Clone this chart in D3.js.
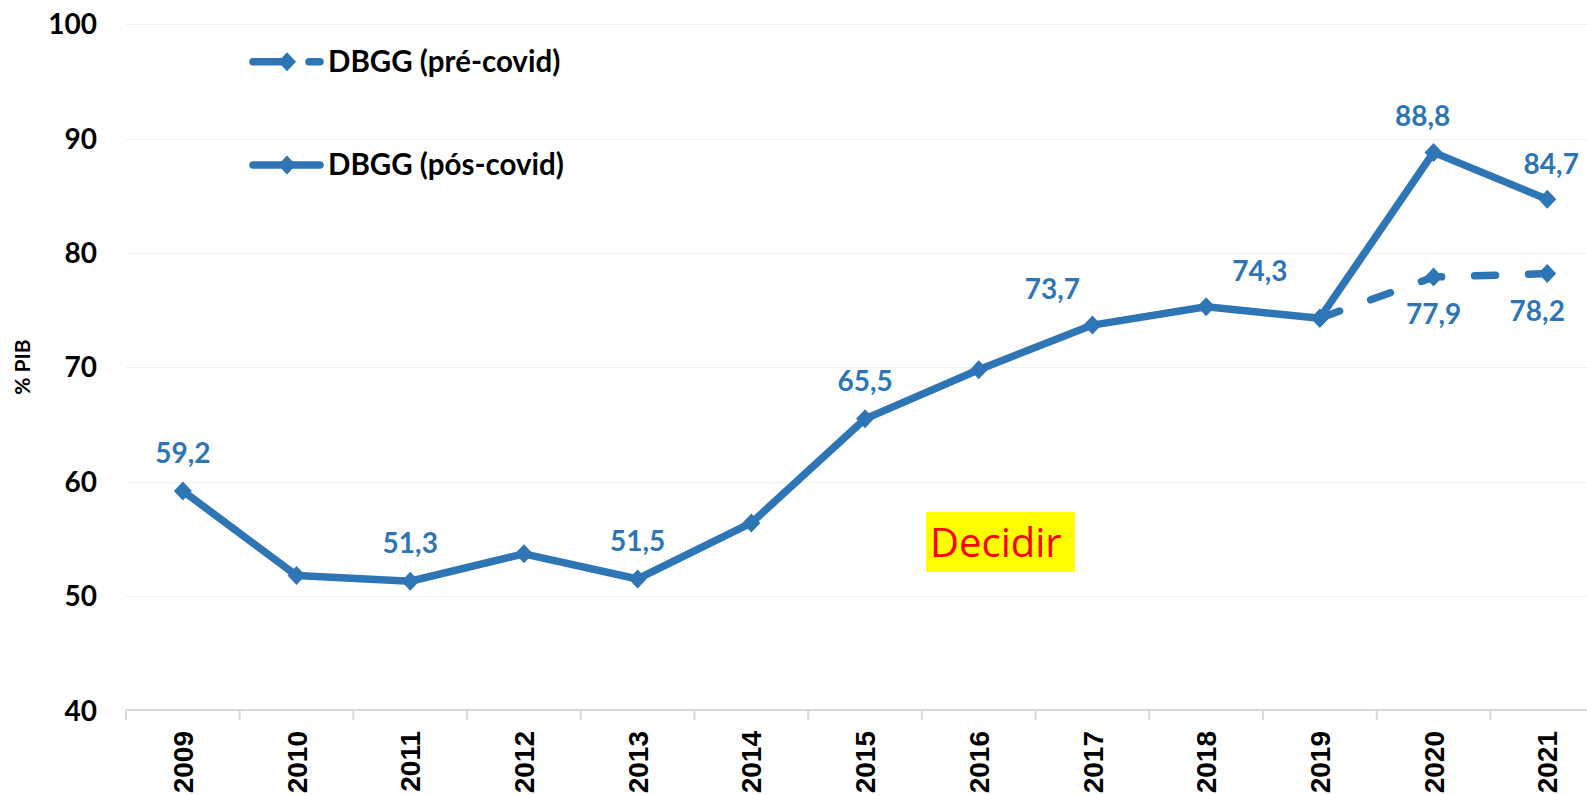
<!DOCTYPE html>
<html>
  <head>
    <meta charset="utf-8">
    <script type="text/javascript" src="https://cdn.jsdelivr.net/npm/d3@7"></script>
    <style>
      body { margin: 0; background: #fff; }
      svg { display: block; }
    </style>
  </head>
<body>
  <script type="text/javascript">
    // data
    var years = ["2009", "2010", "2011", "2012", "2013", "2014", "2015",
                 "2016", "2017", "2018", "2019", "2020", "2021"];
    var posCovid = [59.2, 51.8, 51.3, 53.7, 51.5, 56.4, 65.5, 69.8, 73.7, 75.3, 74.3, 88.8, 84.7];
    var preYears = ["2019", "2020", "2021"];
    var preCovid = [74.3, 77.9, 78.2];
    var yTicks = [40, 50, 60, 70, 80, 90, 100];
    var posLabelYears = ["2009", "2011", "2013", "2015", "2017", "2019", "2020", "2021"];
    var preLabelYears = ["2020", "2021"];

    // label placement (offsets from the point, px)
    var posOffsets = {
      "2009": [0, -28], "2011": [0, -28], "2013": [0, -28], "2015": [0, -28],
      "2017": [-40, -26], "2019": [-60, -37], "2020": [-11, -26], "2021": [4, -25]
    };
    var preOffsets = { "2020": [0, 47], "2021": [-10, 47] };

    var width = 1587;
    var height = 795;
    var blue = "#2e75b6";
    var labelFont = "Lato, 'Open Sans', sans-serif";

    var svg = d3.select("body")
      .append("svg")
      .attr("width", width)
      .attr("height", height);

    var xScale = d3.scaleBand()
      .domain(years)
      .range([126, 126 + 13 * 113.7])
      .padding(0);
    var yScale = d3.scaleLinear()
      .domain([40, 100])
      .range([710.5, 24.3]);

    function cx(y) { return xScale(y) + xScale.bandwidth() / 2; }

    // gridlines
    svg.append("g")
      .selectAll("line")
      .data(yTicks.filter(function (t) { return t > 40; }))
      .enter()
      .append("line")
      .attr("x1", 126)
      .attr("x2", width)
      .attr("y1", function (d) { return Math.round(yScale(d)) + 0.5; })
      .attr("y2", function (d) { return Math.round(yScale(d)) + 0.5; })
      .attr("stroke", "#efefef")
      .attr("stroke-width", 1);

    // y tick labels
    svg.append("g")
      .selectAll("text")
      .data(yTicks)
      .enter()
      .append("text")
      .attr("x", 97)
      .attr("y", function (d) { return yScale(d); })
      .attr("dy", "0.36em")
      .attr("text-anchor", "end")
      .attr("font-family", labelFont)
      .attr("font-weight", "bold")
      .attr("font-size", 28)
      .attr("fill", "#000")
      .text(function (d) { return d; });

    svg.append("text")
      .attr("transform", "translate(30,367) rotate(-90)")
      .attr("text-anchor", "middle")
      .attr("font-family", labelFont)
      .attr("font-weight", "bold")
      .attr("font-size", 21)
      .attr("fill", "#000")
      .text("% PIB");

    // x axis
    var xAxis = d3.axisBottom(xScale)
      .tickSize(0)
      .tickFormat("");
    var gx = svg.append("g")
      .attr("transform", "translate(0,710)")
      .call(xAxis);
    gx.select(".domain")
      .attr("stroke", "#d9d9d9")
      .attr("stroke-width", 2)
      .attr("d", "M126,0H" + width);

    var edges = years.map(function (y) { return xScale(y); });
    gx.selectAll(".edge")
      .data(edges)
      .enter()
      .append("line")
      .attr("class", "edge")
      .attr("x1", function (d) { return d; })
      .attr("x2", function (d) { return d; })
      .attr("y1", 0)
      .attr("y2", 10)
      .attr("stroke", "#d9d9d9")
      .attr("stroke-width", 2);

    svg.append("g")
      .selectAll("text")
      .data(years)
      .enter()
      .append("text")
      .attr("transform", function (d) { return "translate(" + cx(d) + ",731) rotate(-90)"; })
      .attr("dy", "0.36em")
      .attr("text-anchor", "end")
      .attr("font-family", "'Liberation Sans', Arial, sans-serif")
      .attr("font-weight", "bold")
      .attr("font-size", 28)
      .attr("fill", "#000")
      .text(function (d) { return d; });

    // lines
    var diamond = "M0,-9.5L9,0L0,9.5L-9,0Z";
    var line = d3.line()
      .x(function (d) { return cx(d[0]); })
      .y(function (d) { return yScale(d[1]); });

    var preData = d3.zip(preYears, preCovid);
    var posData = d3.zip(years, posCovid);

    svg.append("path")
      .datum(preData)
      .attr("d", line)
      .attr("fill", "none")
      .attr("stroke", blue)
      .attr("stroke-width", 7.5)
      .attr("stroke-linecap", "round")
      .attr("stroke-dasharray", "21,33");
    svg.append("g")
      .selectAll("path")
      .data(preData)
      .enter()
      .append("path")
      .attr("d", diamond)
      .attr("transform", function (d) { return "translate(" + cx(d[0]) + "," + yScale(d[1]) + ")"; })
      .attr("fill", blue);

    svg.append("path")
      .datum(posData)
      .attr("d", line)
      .attr("fill", "none")
      .attr("stroke", blue)
      .attr("stroke-width", 7.5)
      .attr("stroke-linejoin", "round");
    svg.append("g")
      .selectAll("path")
      .data(posData)
      .enter()
      .append("path")
      .attr("d", diamond)
      .attr("transform", function (d) { return "translate(" + cx(d[0]) + "," + yScale(d[1]) + ")"; })
      .attr("fill", blue);

    // data labels
    function fmt(v) { return v.toFixed(1).replace(".", ","); }

    svg.append("g")
      .selectAll("text")
      .data(posData.filter(function (d) { return posLabelYears.indexOf(d[0]) >= 0; }))
      .enter()
      .append("text")
      .attr("x", function (d) { return cx(d[0]) + posOffsets[d[0]][0]; })
      .attr("y", function (d) { return yScale(d[1]) + posOffsets[d[0]][1]; })
      .attr("text-anchor", "middle")
      .attr("font-family", labelFont)
      .attr("font-weight", "bold")
      .attr("font-size", 28)
      .attr("fill", blue)
      .text(function (d) { return fmt(d[1]); });

    svg.append("g")
      .selectAll("text")
      .data(preData.filter(function (d) { return preLabelYears.indexOf(d[0]) >= 0; }))
      .enter()
      .append("text")
      .attr("x", function (d) { return cx(d[0]) + preOffsets[d[0]][0]; })
      .attr("y", function (d) { return yScale(d[1]) + preOffsets[d[0]][1]; })
      .attr("text-anchor", "middle")
      .attr("font-family", labelFont)
      .attr("font-weight", "bold")
      .attr("font-size", 28)
      .attr("fill", blue)
      .text(function (d) { return fmt(d[1]); });

    // legend
    var legend = svg.append("g");
    var legendItems = [
      { name: "DBGG (pré-covid)", y: 61.7, dash: true },
      { name: "DBGG (pós-covid)", y: 165, dash: false }
    ];
    legendItems.forEach(function (it) {
      if (it.dash) {
        legend.append("line")
          .attr("x1", 253).attr("x2", 283).attr("y1", it.y).attr("y2", it.y)
          .attr("stroke", blue).attr("stroke-width", 7.5).attr("stroke-linecap", "round");
        legend.append("line")
          .attr("x1", 309).attr("x2", 320).attr("y1", it.y).attr("y2", it.y)
          .attr("stroke", blue).attr("stroke-width", 7.5).attr("stroke-linecap", "round");
      } else {
        legend.append("line")
          .attr("x1", 253).attr("x2", 320).attr("y1", it.y).attr("y2", it.y)
          .attr("stroke", blue).attr("stroke-width", 7.5).attr("stroke-linecap", "round");
      }
      legend.append("path")
        .attr("d", diamond)
        .attr("transform", "translate(287," + it.y + ")")
        .attr("fill", blue);
      legend.append("text")
        .attr("x", 328)
        .attr("y", it.y + 10)
        .attr("font-family", labelFont)
        .attr("font-weight", "bold")
        .attr("font-size", 29.5)
        .attr("fill", "#000")
        .text(it.name);
    });

    // "Decidir" note
    svg.append("rect")
      .attr("x", 926)
      .attr("y", 512)
      .attr("width", 149)
      .attr("height", 60)
      .attr("fill", "#ffff00");
    svg.append("text")
      .attr("x", 930)
      .attr("y", 557)
      .attr("font-family", "'Open Sans', sans-serif")
      .attr("font-size", 40)
      .attr("fill", "#ff0000")
      .text("Decidir");
  </script>
</body>
</html>
